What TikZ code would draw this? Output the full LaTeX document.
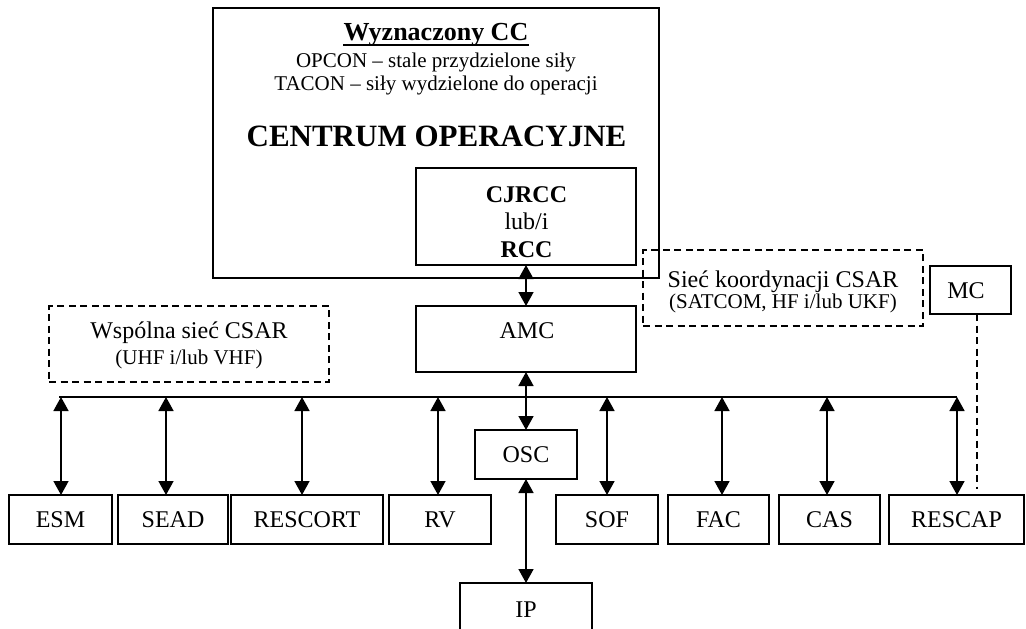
\documentclass[tikz,border=0pt]{standalone}
\usepackage{fontspec}
\setmainfont{Liberation Serif}
\usetikzlibrary{arrows.meta}
\begin{document}
\begin{tikzpicture}[x=1pt,y=-1pt,
  box/.style={draw, line width=1.8pt, inner sep=0pt, outer sep=0pt,
    minimum height=49pt, font=\fontsize{24}{28}\selectfont},
  netbox/.style={draw, line width=1.6pt, dash pattern=on 7pt off 4.5pt,
    inner sep=0pt, outer sep=0pt},
  txt/.style={inner sep=0pt, anchor=base},
  big/.style={font=\fontsize{24}{28}\selectfont},
  bigbf/.style={font=\bfseries\fontsize{24}{28}\selectfont},
  small/.style={font=\fontsize{21}{24}\selectfont},
  link/.style={line width=1.6pt,
    {Triangle[length=14pt,width=15pt]}-{Triangle[length=14pt,width=15pt]}},
  bus/.style={line width=1.2pt},
  radio/.style={line width=1.6pt, dash pattern=on 7pt off 4.5pt}
]
\clip (0,0) rectangle (1026,629);

% operations centre
\node[box, minimum width=446pt, minimum height=270pt] (cc) at (436,143) {};
\node[txt, font=\bfseries\fontsize{26}{30}\selectfont] (cctitle) at (436,40.5) {Wyznaczony CC};
\draw[line width=1.6pt] ([yshift=-4.5pt]cctitle.base west) -- ([yshift=-4.5pt]cctitle.base east);
\node[txt, small] (opcon) at (436,67.5) {OPCON – stale przydzielone siły};
\node[txt, small] (tacon) at (436,90) {TACON – siły wydzielone do operacji};
\node[txt, font=\bfseries\fontsize{31}{36}\selectfont] (cop) at (436.5,146.5) {CENTRUM OPERACYJNE};

% rescue coordination centre
\node[box, minimum width=220pt, minimum height=97pt] (cjrcc) at (526,216.5) {};
\node[txt, bigbf] (cjrcct) at (526.5,202) {CJRCC};
\node[txt, big] (lubi) at (526.5,229.5) {lub/i};
\node[txt, bigbf] (rcct) at (526.5,257) {RCC};

% AMC, OSC, IP
\node[box, minimum width=220pt, minimum height=66pt] (amc) at (526,339) {};
\node[txt, big] (amct) at (527,338) {AMC};
\node[box, minimum width=102pt] (osc) at (526,454.5) {OSC};
\node[box, line width=2.8pt, minimum width=132pt, minimum height=90pt] (ip) at (526,628) {};
\node[txt, big] (ipt) at (526,617) {IP};

% MC
\node[box, minimum width=81pt, minimum height=48pt] (mc) at (970.5,290) {};
\node[txt, big] (mct) at (966,298) {MC};

% radio networks
\node[netbox, minimum width=280pt, minimum height=76pt] (coord) at (783,288) {};
\node[txt, big] (coordt1) at (783,287) {Sieć koordynacji CSAR};
\node[txt, small] (coordt2) at (783,308.5) {(SATCOM, HF i/lub UKF)};
\node[netbox, minimum width=280pt, minimum height=76pt] (common) at (189,344) {};
\node[txt, big] (commont1) at (189,338) {Wspólna sieć CSAR};
\node[txt, small] (commont2) at (189,364) {(UHF i/lub VHF)};

% forces
\node[box, minimum width=103pt] (esm) at (60.5,519.5) {ESM};
\node[box, minimum width=110pt] (sead) at (173,519.5) {SEAD};
\node[box, minimum width=152pt] (rescort) at (307,519.5) {RESCORT};
\node[box, minimum width=102pt] (rv) at (440,519.5) {RV};
\node[box, minimum width=102pt] (sof) at (607,519.5) {SOF};
\node[box, minimum width=101pt] (fac) at (718.5,519.5) {FAC};
\node[box, minimum width=101pt] (cas) at (829.5,519.5) {CAS};
\node[box, minimum width=135pt] (rescap) at (956.5,519.5) {RESCAP};

% vertical links
\draw[link] (cjrcc.south) -- (amc.north);
\draw[link] (amc.south) -- (osc.north);
\draw[link] (osc.south) -- (ip.north);

% common bus
\coordinate (busL) at (59,397);
\coordinate (busR) at (957,397);
\draw[bus] (busL) -- (busR);
\coordinate (bEsm) at (61,397);
\coordinate (bSead) at (166,397);
\coordinate (bRescort) at (302,397);
\coordinate (bRv) at (438,397);
\coordinate (bSof) at (607,397);
\coordinate (bFac) at (722,397);
\coordinate (bCas) at (827,397);
\coordinate (bRescap) at (957,397);
\draw[link] (bEsm) -- (bEsm |- esm.north);
\draw[link] (bSead) -- (bSead |- sead.north);
\draw[link] (bRescort) -- (bRescort |- rescort.north);
\draw[link] (bRv) -- (bRv |- rv.north);
\draw[link] (bSof) -- (bSof |- sof.north);
\draw[link] (bFac) -- (bFac |- fac.north);
\draw[link] (bCas) -- (bCas |- cas.north);
\draw[link] (bRescap) -- (bRescap |- rescap.north);

% MC to RESCAP
\coordinate (mcDrop) at (977,489);
\draw[radio] (mcDrop |- mc.south) -- (mcDrop);
\end{tikzpicture}
\end{document}
